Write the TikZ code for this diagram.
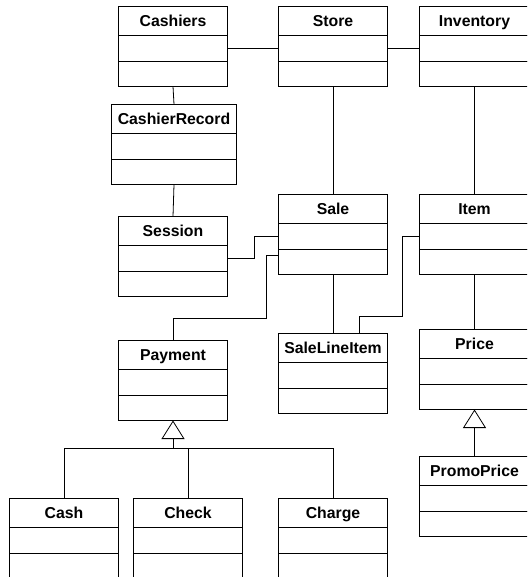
\documentclass[tikz,border=0pt]{standalone}
\usepackage{fontspec}
\setmainfont{Liberation Sans}
\usetikzlibrary{positioning,arrows.meta}

\begin{document}
\begin{tikzpicture}[x=1pt,y=-1pt,
  classhead/.style={draw,line width=1pt,outer sep=0pt,anchor=north,minimum height=29pt,
    text height=11.3pt,text depth=0pt,font=\fontsize{15.8}{18}\selectfont\bfseries},
  classpart/.style={draw,line width=1pt,outer sep=0pt,minimum height=#1},
  classpart/.default=25pt,
  assoc/.style={line width=0.8pt},
  generalize/.style={line width=0.8pt,-{Triangle[open,width=23pt,length=18.5pt]}}]
\useasboundingbox (0,0) rectangle (527,577);
\fill[white] (0,0) rectangle (527,577);
\clip (0,0) rectangle (527,577);

\foreach \n/\x/\y/\w/\lbl in {cashiers/173/6.5/109/Cashiers,store/333/6.5/109/Store,
  inventory/474.5/6.5/110/Inventory,cashierrecord/174/104.5/125/CashierRecord,
  session/173/216.5/109/Session,sale/333/194.5/109/Sale,item/474.5/194.5/110/Item,
  payment/173/340.5/109/Payment,salelineitem/333/333.5/109/SaleLineItem,
  price/474.5/329.5/110/Price,promoprice/474.5/456.5/110/PromoPrice,
  cash/64/498.5/109/Cash,check/188/498.5/109/Check,charge/333/498.5/109/Charge}{
  \node[classhead,minimum width=\w] (\n) at (\x,\y) {\lbl};
  \node[classpart=26pt,minimum width=\w,below=0pt of \n] (\n-a) {};
  \node[classpart,minimum width=\w,below=0pt of \n-a] (\n-b) {};
}

\draw[assoc] (cashiers-a) -- (store-a);
\draw[assoc] (store-a) -- (inventory-a);
\draw[assoc] (cashiers-b.south) -- (cashierrecord.north);
\draw[assoc] (cashierrecord-b.south) -- (session.north);
\draw[assoc] (store-b) -- (sale);
\draw[assoc] (session-a.east) -- ++(26.6,0) |- (sale-a.west);
\coordinate (paybend) at (266,318.3);
\draw[assoc] ([yshift=7pt]sale-b.west) -| (paybend) -| (payment.north);
\draw[assoc] (sale-b) -- (salelineitem);
\coordinate (itembend) at (402.7,316);
\draw[assoc] (item-a.west) -| (itembend) -| ([xshift=26.3pt]salelineitem.north);
\draw[assoc] (inventory-b) -- (item);
\draw[assoc] (item-b) -- (price);

\coordinate (paybus) at (173,448.4);
\draw[generalize] (paybus) -- (payment-b.south);
\draw[assoc] (cash.north) |- (paybus) -| (charge.north);
\draw[assoc] (check.north) |- (paybus);
\draw[generalize] (promoprice) -- (price-b);
\end{tikzpicture}
\end{document}
